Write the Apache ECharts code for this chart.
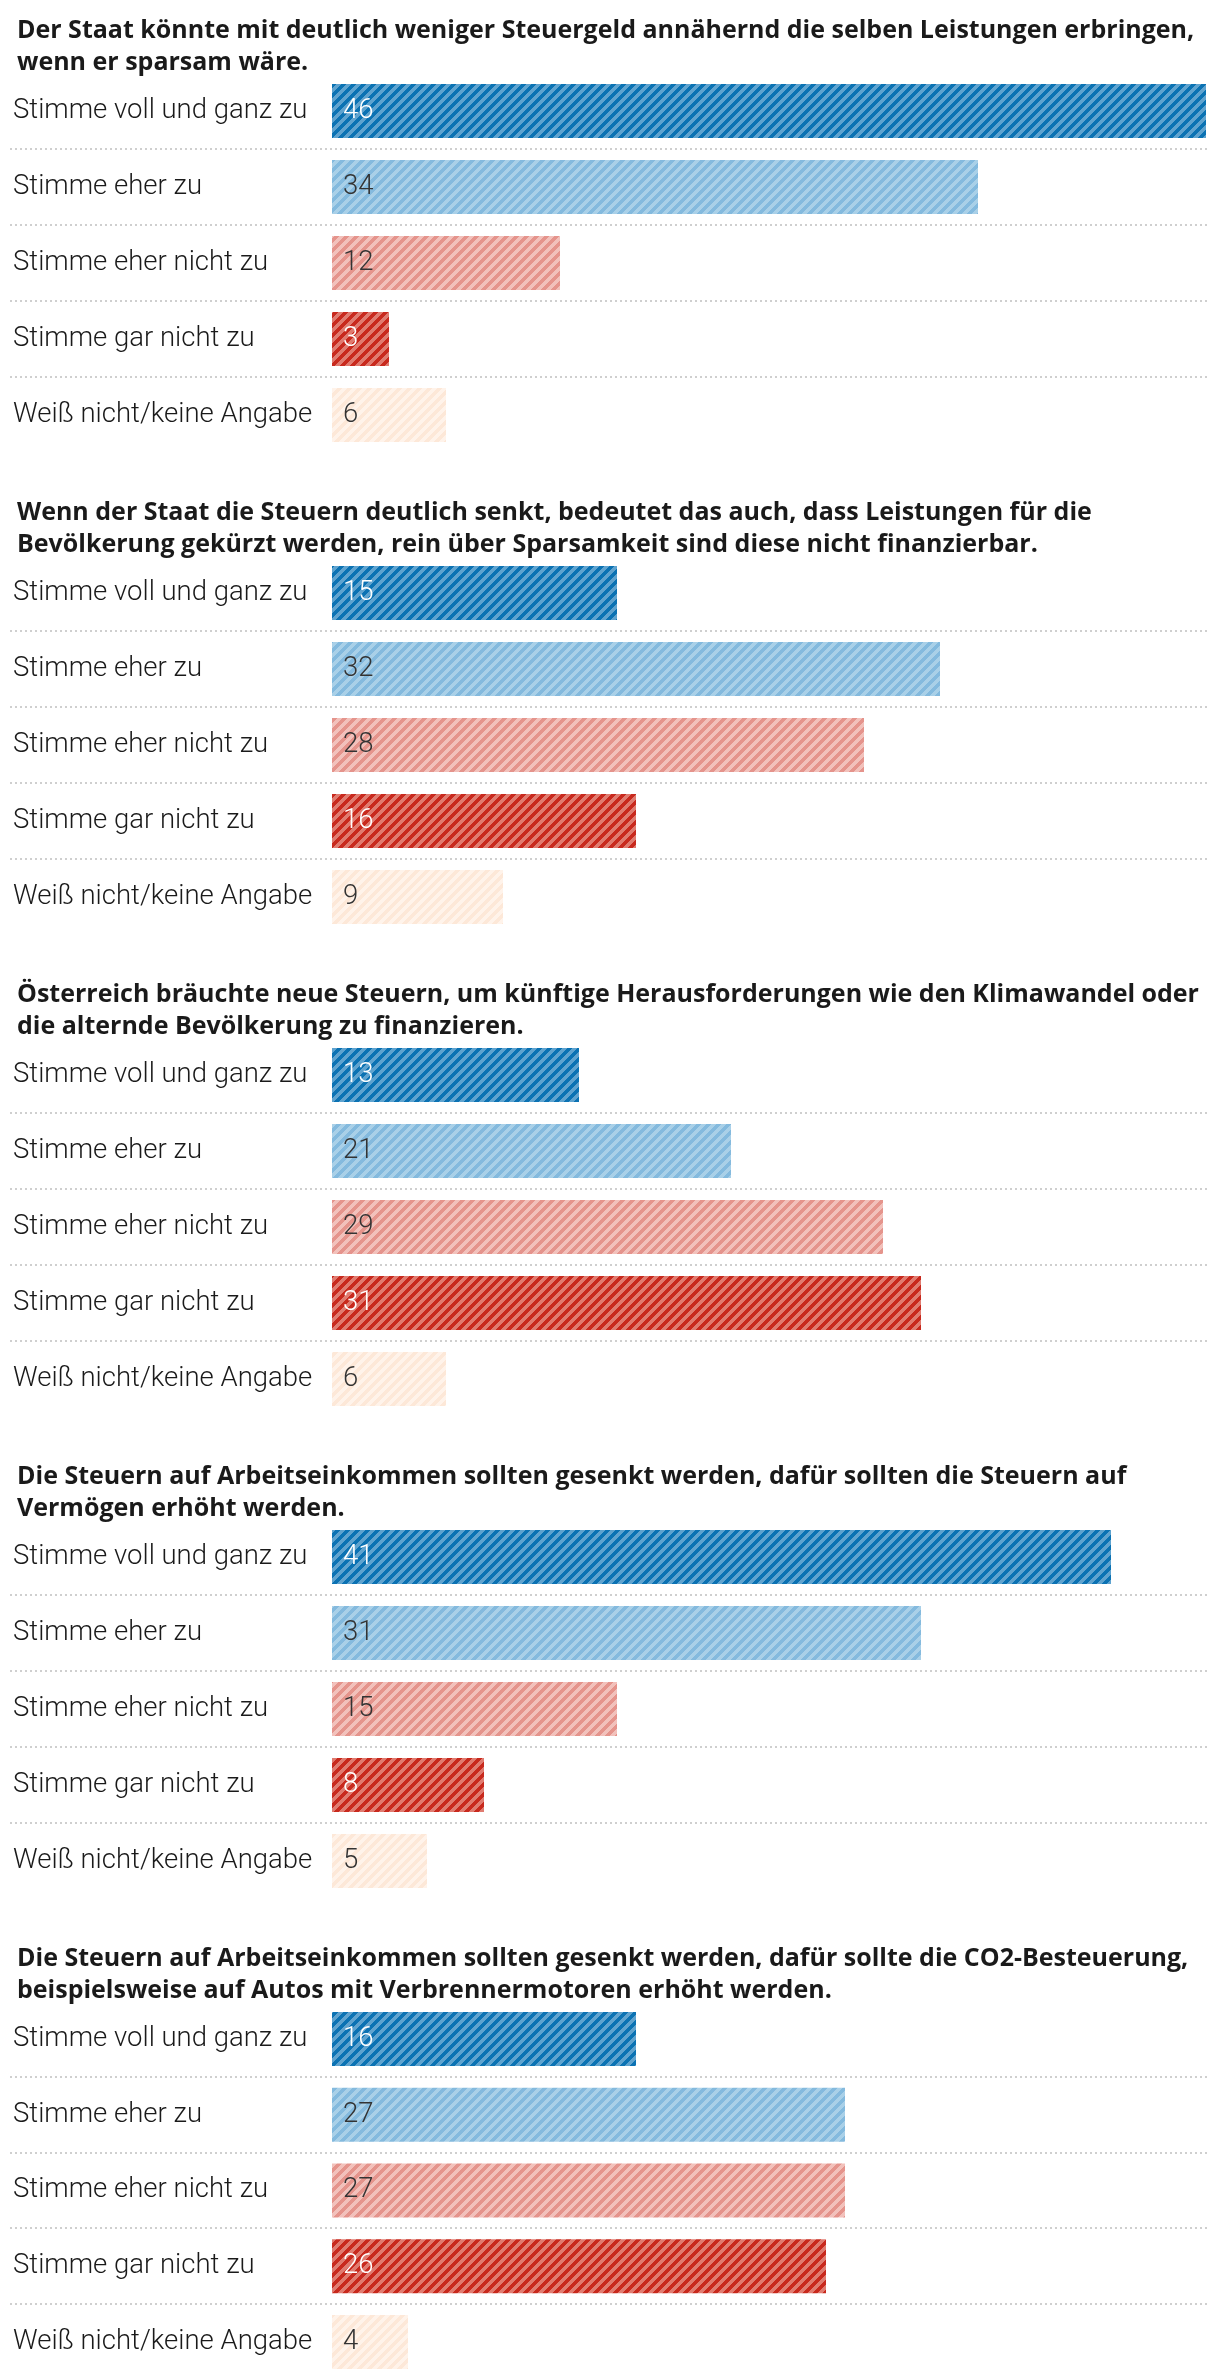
<!DOCTYPE html>
<html><head><meta charset="utf-8">
<script src="https://cdn.jsdelivr.net/npm/echarts@6/dist/echarts.min.js"></script>
<style>html,body{margin:0;padding:0;background:#fff}#c{width:1220px;height:2380px}</style>
</head><body><div id="c"></div>
<script>
const titles = [
 "Der Staat könnte mit deutlich weniger Steuergeld annähernd die selben Leistungen erbringen,\nwenn er sparsam wäre.",
 "Wenn der Staat die Steuern deutlich senkt, bedeutet das auch, dass Leistungen für die\nBevölkerung gekürzt werden, rein über Sparsamkeit sind diese nicht finanzierbar.",
 "Österreich bräuchte neue Steuern, um künftige Herausforderungen wie den Klimawandel oder\ndie alternde Bevölkerung zu finanzieren.",
 "Die Steuern auf Arbeitseinkommen sollten gesenkt werden, dafür sollten die Steuern auf\nVermögen erhöht werden.",
 "Die Steuern auf Arbeitseinkommen sollten gesenkt werden, dafür sollte die CO2-Besteuerung,\nbeispielsweise auf Autos mit Verbrennermotoren erhöht werden."
];
const categories = ["Stimme voll und ganz zu","Stimme eher zu","Stimme eher nicht zu","Stimme gar nicht zu","Weiß nicht/keine Angabe"];
const values1 = [46,34,12,3,6];
const values2 = [15,32,28,16,9];
const values3 = [13,21,29,31,6];
const values4 = [41,31,15,8,5];
const values5 = [16,27,27,26,4];
const allValues = [values1, values2, values3, values4, values5];

// styles
const FONT = 'Roboto, "Noto Sans", sans-serif';
const TFONT = '"Open Sans", Roboto, sans-serif';
const baseColors   = ['#0b72b3','#a9d0e8','#f2c1bb','#c8291d','#fde8d8'];
const stripeColors = ['#5fa3cf','#84bade','#e5948c','#e07b70','#fff3ea'];
const labelColors  = ['#ffffff','#333333','#333333','#ffffff','#333333'];

function makePattern(bg, fg){
  const P = 10;
  const c = document.createElement('canvas');
  c.width = P; c.height = P;
  const ctx = c.getContext('2d');
  ctx.fillStyle = bg; ctx.fillRect(0,0,P,P);
  ctx.fillStyle = fg;
  for (let y=0;y<P;y++) for (let x=0;x<P;x++){
    if (((x+y)%P) < P/2) ctx.fillRect(x,y,1,1);
  }
  return c;
}
const patterns = baseColors.map((b,i)=>makePattern(b, stripeColors[i]));

const GROUP = 482, TOP0 = 73, BAND = 76;
const chart = echarts.init(document.getElementById('c'), null, {renderer:'canvas'});

const grids=[], xAxes=[], yAxes=[], series=[], titleOpts=[];
allValues.forEach((vals,g)=>{
  titleOpts.push({
    text: titles[g], left: 12, top: 10 + g*GROUP,
    textStyle:{fontFamily:TFONT, fontSize:25, fontWeight:'bold', color:'#1a1a1a', lineHeight:32}
  });
  grids.push({left:332, width:874, top: TOP0 + g*GROUP, height: BAND*categories.length});
  xAxes.push({type:'value', gridIndex:g, min:0, max:46, show:false});
  yAxes.push({type:'category', gridIndex:g, data:categories, inverse:true,
    axisLine:{show:false}, axisTick:{show:false}, splitLine:{show:false},
    axisLabel:{align:'left', margin:319, fontFamily:FONT, fontSize:27.5, fontWeight:300, color:'#1a1a1a'}});
  series.push({type:'bar', xAxisIndex:g, yAxisIndex:g, barWidth:54, animation:false,
    data: vals.map((v,i)=>({value:v,
      itemStyle:{color:{image:patterns[i], repeat:'repeat'}},
      label:{color:labelColors[i]}})),
    label:{show:true, position:'insideLeft', distance:11, fontFamily:FONT, fontSize:27.5, fontWeight:300}
  });
});

chart.setOption({animation:false, title:titleOpts, grid:grids, xAxis:xAxes, yAxis:yAxes, series:series});

// dotted separators between rows, derived from the category axes
const graphics=[];
allValues.forEach((vals,g)=>{
  for (let i=0;i<categories.length-1;i++){
    const a = chart.convertToPixel({yAxisIndex:g}, categories[i]);
    const b = chart.convertToPixel({yAxisIndex:g}, categories[i+1]);
    const y = Math.round((a+b)/2);
    graphics.push({type:'line', shape:{x1:10,y1:y,x2:1208,y2:y},
      style:{stroke:'#cfcfcf', lineWidth:2, lineDash:[2,3]}});
  }
});
chart.setOption({graphic:graphics});
</script></body></html>
